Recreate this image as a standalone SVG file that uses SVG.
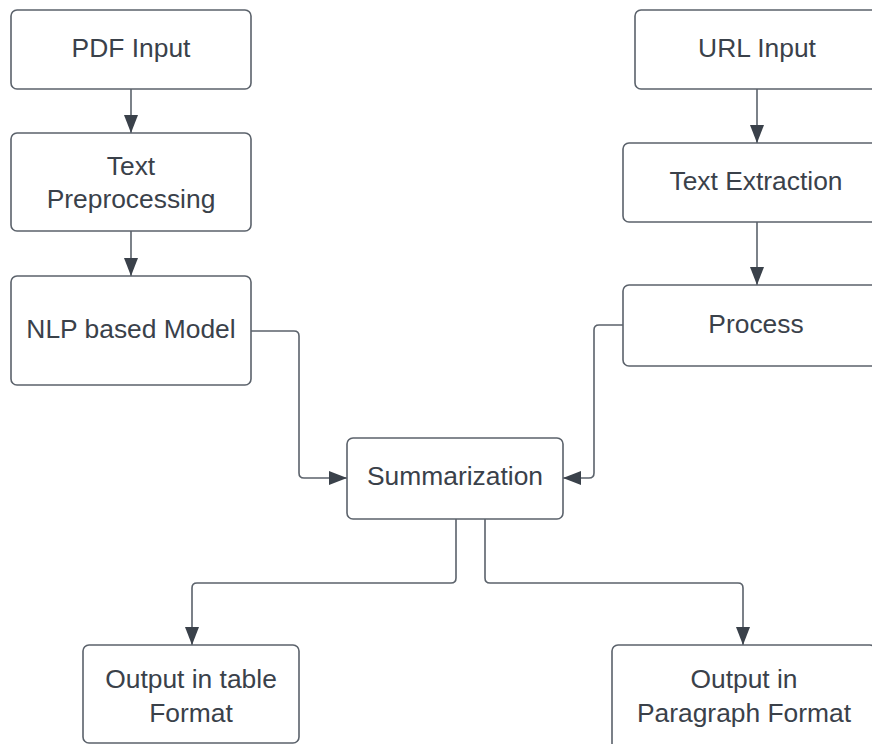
<svg xmlns="http://www.w3.org/2000/svg" width="872" height="744" viewBox="0 0 872 744">
  <style>
    .box { fill: #ffffff; stroke: #5b626b; stroke-width: 1.6; }
    .lbl { font-family: "Liberation Sans", Arial, sans-serif; font-size: 26.4px; fill: #3a414a; text-anchor: middle; }
    .wire { fill: none; stroke: #5b626b; stroke-width: 1.6; marker-end: url(#arrow); }
  </style>
  <defs>
    <marker id="arrow" viewBox="0 0 18 14" refX="18" refY="7" markerWidth="18" markerHeight="14" markerUnits="userSpaceOnUse" orient="auto">
      <path d="M0,0 L18,7 L0,14 Z" fill="#3a414a"/>
    </marker>
  </defs>
  <rect width="872" height="744" fill="#ffffff"/>

  <g id="connectors">
    <path class="wire" d="M131,89 V133"/>
    <path class="wire" d="M131,231 V276"/>
    <path class="wire" d="M757,89 V143"/>
    <path class="wire" d="M757,222 V285"/>
    <path class="wire" d="M251,331 H294 Q299,331 299,336 V473 Q299,478 304,478 H347"/>
    <path class="wire" d="M623,325 H599 Q594,325 594,330 V473 Q594,478 589,478 H563"/>
    <path class="wire" d="M456,519 V578 Q456,583 451,583 H197 Q192,583 192,588 V645"/>
    <path class="wire" d="M485,519 V578 Q485,583 490,583 H738 Q743,583 743,588 V645"/>
  </g>

  <g id="pdf-input">
    <rect class="box" x="11" y="10" width="240" height="79" rx="6"/>
    <text class="lbl" x="131" y="57">PDF Input</text>
  </g>
  <g id="text-preprocessing">
    <rect class="box" x="11" y="133" width="240" height="98" rx="6"/>
    <text class="lbl" x="131" y="175">Text</text>
    <text class="lbl" x="131" y="208">Preprocessing</text>
  </g>
  <g id="nlp-model">
    <rect class="box" x="11" y="276" width="240" height="109" rx="6"/>
    <text class="lbl" x="131" y="338">NLP based Model</text>
  </g>
  <g id="url-input">
    <rect class="box" x="635" y="10" width="244" height="79" rx="6"/>
    <text class="lbl" x="757" y="57">URL Input</text>
  </g>
  <g id="text-extraction">
    <rect class="box" x="623" y="143" width="268" height="79" rx="6"/>
    <text class="lbl" x="756" y="190">Text Extraction</text>
  </g>
  <g id="process">
    <rect class="box" x="623" y="285" width="268" height="81" rx="6"/>
    <text class="lbl" x="756" y="333">Process</text>
  </g>
  <g id="summarization">
    <rect class="box" x="347" y="438" width="216" height="81" rx="6"/>
    <text class="lbl" x="455" y="485">Summarization</text>
  </g>
  <g id="output-table">
    <rect class="box" x="83" y="645" width="216" height="98" rx="6"/>
    <text class="lbl" x="191" y="688">Output in table</text>
    <text class="lbl" x="191" y="722">Format</text>
  </g>
  <g id="output-paragraph">
    <rect class="box" x="612" y="645" width="264" height="110" rx="6"/>
    <text class="lbl" x="744" y="688">Output in</text>
    <text class="lbl" x="744" y="722">Paragraph Format</text>
  </g>
</svg>
